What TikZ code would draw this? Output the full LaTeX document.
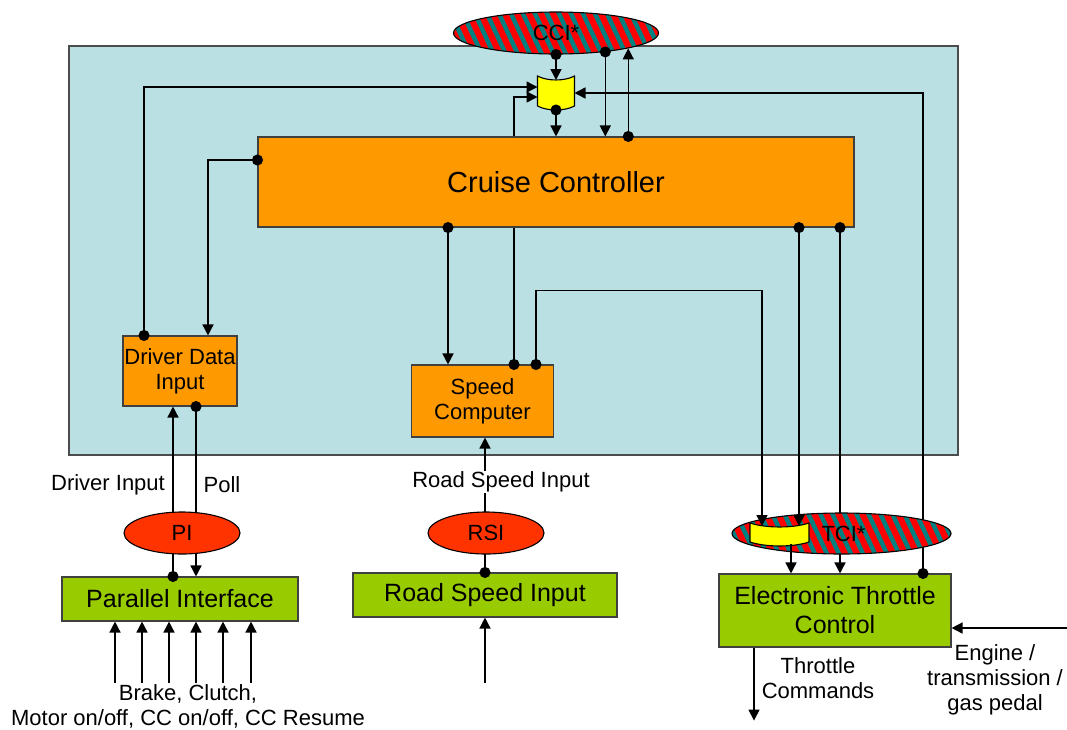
\documentclass[tikz,border=0pt]{standalone}
\usepackage{fontspec}
\setmainfont{Liberation Sans}
\usetikzlibrary{arrows.meta,shapes.geometric,calc}

\definecolor{panelblue}{RGB}{187,224,227}
\definecolor{ccorange}{RGB}{255,153,0}
\definecolor{devgreen}{RGB}{153,204,0}
\definecolor{ifred}{RGB}{255,51,0}
\definecolor{stripered}{RGB}{255,0,0}
\definecolor{stripeteal}{RGB}{0,128,128}
\definecolor{qyellow}{RGB}{255,255,0}

\tikzset{
  wire/.style={line width=1.5pt, draw=black},
  arrow/.style={wire, -{Triangle[length=11pt,width=11pt]}},
  dotarrow/.style={wire, {Circle[length=11pt]}-{Triangle[length=11pt,width=11pt]}, shorten <=-5.5pt},
  dotline/.style={wire, {Circle[length=11pt]}-, shorten <=-5.5pt},
  box/.style={draw=black!75, line width=1.1pt, inner sep=0pt, align=center,
              font=\fontsize{22}{25}\selectfont},
  procbox/.style={box, fill=ccorange},
  devbox/.style={box, fill=devgreen, font=\fontsize{25}{29}\selectfont},
  iface/.style={ellipse, draw=black, line width=1.1pt, fill=ifred, inner sep=0pt,
                minimum width=116pt, minimum height=42pt, font=\fontsize{22}{25}\selectfont},
  striped/.style={iface, fill=stripered,
    path picture={
      \foreach \k in {-12,...,12}
        \draw[stripeteal, line width=4.5pt]
          ([xshift=\k*12pt-13pt, yshift=28pt]path picture bounding box.center) --
          ([xshift=\k*12pt+13pt, yshift=-28pt]path picture bounding box.center);
    }},
  slot/.style={inner sep=0pt, outer sep=0pt, draw=none},
  queue/.style={fill=qyellow, draw=black, line width=1.1pt},
  lbl/.style={align=center, inner sep=1pt, font=\fontsize{22}{25}\selectfont},
  panelbox/.style={draw=black!70, line width=1.3pt, fill=panelblue, inner sep=0pt},
}

\begin{document}
\begin{tikzpicture}[x=1pt, y=-1pt]
\useasboundingbox (0,0) rectangle (1067,729);

% controller panel
\node[panelbox, minimum width=889pt, minimum height=409pt] (panel) at (513.5,250.5) {};

% processing blocks
\node[procbox, minimum width=596pt, minimum height=90pt, font=\fontsize{29}{32}\selectfont] (cc) at (556,182) {Cruise Controller};
\node[procbox, minimum width=114pt, minimum height=70pt] (ddi) at (180,371) {Driver Data\\Input};
\node[procbox, minimum width=142pt, minimum height=72pt] (sc) at (482.5,401) {Speed\\Computer};

% devices
\node[devbox, minimum width=236pt, minimum height=44pt] (ps) at (180,599) {Parallel Interface};
\node[devbox, minimum width=264pt, minimum height=44pt] (rsb) at (485,595) {Road Speed Input};
\node[devbox, minimum width=232pt, minimum height=73pt] (etc) at (835,610.5) {Electronic Throttle\\Control};

% queue placeholders
\node[slot, minimum width=37pt, minimum height=34pt] (q1) at (556,93) {};
\node[slot, minimum width=59pt, minimum height=23pt] (q2) at (779.5,534.5) {};

% connectors running beneath the interface ellipses
\draw[dotarrow] ([xshift=-7pt]ps.north) -- ([xshift=-7pt]ddi.south);
\draw[dotarrow] ([xshift=16pt]ddi.south) -- ([xshift=16pt]ps.north);
\draw[dotarrow] (rsb.north) -- ([xshift=2.5pt]sc.south);
\draw[dotarrow] ([xshift=284pt]cc.south) -- ([xshift=5pt]etc.north);
\draw[dotarrow] ([xshift=88pt]etc.north) |- (q1.east);

% connectors inside the panel
\draw[dotarrow] ([xshift=-36pt]ddi.north) |- ([yshift=6pt]q1.west);
\draw[arrow] ([xshift=-42pt]cc.north) |- ([yshift=-4pt]q1.west);
\draw[dotarrow] ([yshift=22pt]cc.west) -| ([xshift=28pt]ddi.north);
\draw[dotarrow] ([xshift=-108pt]cc.south) -- ([xshift=-34.5pt]sc.north);
\draw[dotline] ([xshift=31.5pt]sc.north) -- ([xshift=-42pt]cc.south);

% interfaces
\node[striped, minimum width=205pt, minimum height=42pt] (cci) at (556,33) {CCI*};
\node[iface] (pi) at (182,533) {PI};
\node[iface] (rsi) at (486,533) {RSI};
\node[striped, minimum width=219pt, minimum height=41pt] (tci) at (841.5,533.5) {\hspace*{4pt}TCI*};

% message queues
\filldraw[queue] (q1.north west) .. controls +(10pt,-5.3pt) and +(-10pt,-5.3pt) .. (q1.north east)
  -- ([yshift=4pt]q1.south east) .. controls +(-10pt,-5.3pt) and +(10pt,-5.3pt) .. ([yshift=4pt]q1.south west) -- cycle;
\filldraw[queue] (q2.north west) .. controls +(16pt,-5.3pt) and +(-16pt,-5.3pt) .. (q2.north east)
  -- ([yshift=4pt]q2.south east) .. controls +(-16pt,-5.3pt) and +(16pt,-5.3pt) .. ([yshift=4pt]q2.south west) -- cycle;

% connectors on top of interfaces and queues
\draw[dotarrow] (cci.south) -- ([yshift=-4pt]q1.north);
\draw[dotarrow] (q1.south) -- (cc.north);
\draw[dotarrow] (cci.-21) -- (cci.-21 |- cc.north);
\draw[dotarrow] (cci.-12 |- cc.north) -- (cci.-12);
\draw[dotarrow] ([xshift=53.5pt]sc.north) -- ++(0,-74) -| ([xshift=-17.5pt,yshift=-3pt]q2.north);
\draw[dotarrow] ([xshift=243pt]cc.south) -- ([xshift=19.5pt,yshift=-3pt]q2.north);
\draw[arrow] ([xshift=11.5pt,yshift=2pt]q2.south) -- ([xshift=-44pt]etc.north);

% external inputs and outputs
\foreach \dx in {-65,-38,-11,16,43,71}
  \draw[arrow] ([xshift=\dx pt,yshift=-61pt]ps.south) -- ([xshift=\dx pt]ps.south);
\draw[arrow] ([yshift=-65pt]rsb.south) -- (rsb.south);
\draw[arrow] ([xshift=-81pt]etc.south) -- ([xshift=-81pt,yshift=-73pt]etc.south);
\draw[arrow] ([xshift=116pt,yshift=-17.5pt]etc.east) -- ([yshift=-17.5pt]etc.east);

% labels
\node[lbl] (lDI) at (108,485) {Driver Input};
\node[lbl] (lPoll) at (222,485) {Poll};
\node[lbl, fill=white] (lRSI) at (501,482) {Road Speed Input};
\node[lbl] (lTC) at (818,678) {Throttle\\Commands};
\node[lbl] (lEng) at (995,680) {Engine /\\transmission /\\gas pedal};
\node[lbl] (lBrk) at (188,706) {Brake, Clutch,\\Motor on/off, CC on/off, CC Resume};
\end{tikzpicture}
\end{document}
